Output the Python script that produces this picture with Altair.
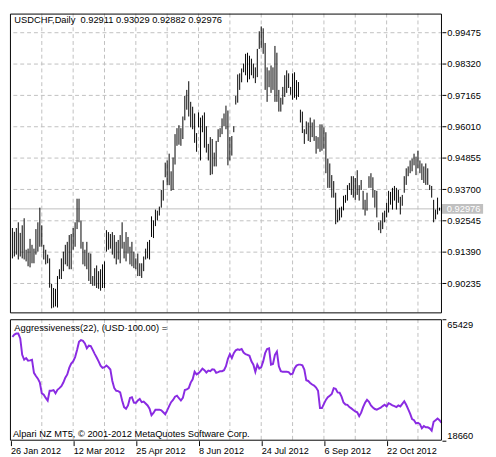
import altair as alt
import pandas as pd

# ---- OHLC bars (daily USDCHF), high / low per bar ----
high = [
    0.9227, 0.9213, 0.9227, 0.9248, 0.9209, 0.9237, 0.9263, 0.9147, 0.9151, 0.9187,
    0.9165, 0.9151, 0.9223, 0.9248, 0.9302, 0.9237, 0.9165, 0.9147, 0.9129, 0.9115,
    0.9021, 0.9006, 0.9003, 0.9050, 0.9075, 0.9115, 0.9140, 0.9165, 0.9176, 0.9201,
    0.9205, 0.9227, 0.9248, 0.9335, 0.9335,
    0.9255, 0.9176, 0.9147, 0.9176, 0.9136, 0.9133, 0.9050, 0.9079, 0.9089, 0.9068,
    0.9075, 0.9093, 0.9104, 0.9219, 0.9212, 0.9205, 0.9212, 0.9201, 0.9176, 0.9183,
    0.9201, 0.9248, 0.9176, 0.9212, 0.9194, 0.9158, 0.9176, 0.9140, 0.9115, 0.9133,
    0.9097, 0.9097, 0.9122, 0.9151, 0.9176, 0.9183, 0.9270, 0.9255,
    0.9295, 0.9291, 0.9306, 0.9367, 0.9403, 0.9468, 0.9476, 0.9501, 0.9436, 0.9487,
    0.9573, 0.9595, 0.9606, 0.9595, 0.9638, 0.9714, 0.9736, 0.9768, 0.9692, 0.9674,
    0.9649, 0.9577, 0.9653, 0.9634, 0.9642, 0.9653, 0.9602, 0.9537, 0.9562, 0.9555,
    0.9505, 0.9548, 0.9591, 0.9595, 0.9631, 0.9649, 0.9678,
    0.9660, 0.9562, 0.9566, 0.9602, 0.9714, 0.9793, 0.9797, 0.9815, 0.9833, 0.9869,
    0.9873, 0.9862, 0.9851, 0.9833, 0.9819, 0.9887, 0.9952, 0.9970, 0.9963, 0.9909,
    0.9819, 0.9808, 0.9826, 0.9819, 0.9898, 0.9873, 0.9736, 0.9707, 0.9747, 0.9790,
    0.9808, 0.9797, 0.9747, 0.9797, 0.9801, 0.9772, 0.9765,
    0.9663, 0.9656, 0.9591, 0.9620, 0.9616, 0.9634, 0.9616, 0.9627, 0.9566, 0.9562,
    0.9609, 0.9609, 0.9598, 0.9580, 0.9483, 0.9465, 0.9422, 0.9400, 0.9357, 0.9295,
    0.9302, 0.9306, 0.9346, 0.9349, 0.9385, 0.9393, 0.9418, 0.9418, 0.9411, 0.9440,
    0.9385, 0.9404, 0.9364, 0.9331, 0.9357, 0.9418,
    0.9429, 0.9414, 0.9367, 0.9364, 0.9248, 0.9255, 0.9284, 0.9291, 0.9320, 0.9364,
    0.9360, 0.9375, 0.9382, 0.9375, 0.9367, 0.9342, 0.9349, 0.9418, 0.9447, 0.9454,
    0.9476, 0.9483, 0.9501, 0.9490, 0.9512, 0.9476, 0.9465, 0.9454, 0.9465, 0.9447,
    0.9386, 0.9382, 0.9331, 0.9295, 0.9339, 0.9302, 0.93029,
]
low = [
    0.9115, 0.9122, 0.9129, 0.9111, 0.9122, 0.9115, 0.9111, 0.9104, 0.9086, 0.9082,
    0.9097, 0.9097, 0.9129, 0.9140, 0.9158, 0.9158, 0.9111, 0.9093, 0.9097, 0.9007,
    0.8931, 0.8934, 0.8938, 0.8934, 0.9039, 0.9039, 0.9068, 0.9093, 0.9086, 0.9075,
    0.9075, 0.9147, 0.9158, 0.9223, 0.9248,
    0.9151, 0.9093, 0.9086, 0.9075, 0.9032, 0.9021, 0.9014, 0.9014, 0.9006, 0.9003,
    0.8996, 0.9006, 0.9006, 0.9140, 0.9147, 0.9151, 0.9129, 0.9115, 0.9093, 0.9111,
    0.9097, 0.9151, 0.9115, 0.9104, 0.9133, 0.9093, 0.9086, 0.9079, 0.9075, 0.9050,
    0.9050, 0.9043, 0.9068, 0.9111, 0.9115, 0.9111, 0.9194, 0.9190,
    0.9234, 0.9255, 0.9273, 0.9302, 0.9328, 0.9414, 0.9385, 0.9385, 0.9364, 0.9367,
    0.9461, 0.9530, 0.9534, 0.9530, 0.9555, 0.9624, 0.9663, 0.9638, 0.9598, 0.9591,
    0.9541, 0.9508, 0.9598, 0.9476, 0.9580, 0.9523, 0.9505, 0.9476, 0.9422, 0.9425,
    0.9454, 0.9454, 0.9544, 0.9562, 0.9573, 0.9602, 0.9591,
    0.9458, 0.9476, 0.9494, 0.9580, 0.9682, 0.9689, 0.9736, 0.9764, 0.9801, 0.9790,
    0.9764, 0.9775, 0.9790, 0.9779, 0.9761, 0.9783, 0.9887, 0.9891, 0.9869, 0.9736,
    0.9692, 0.9746, 0.9725, 0.9736, 0.9692, 0.9692, 0.9656, 0.9656, 0.9682, 0.9710,
    0.9725, 0.9743, 0.9718, 0.9700, 0.9707, 0.9700, 0.9710,
    0.9616, 0.9577, 0.9537, 0.9573, 0.9548, 0.9544, 0.9562, 0.9548, 0.9501, 0.9519,
    0.9508, 0.9512, 0.9519, 0.9429, 0.9375, 0.9375, 0.9339, 0.9339, 0.9241, 0.9248,
    0.9255, 0.9266, 0.9292, 0.9320, 0.9328, 0.9367, 0.9349, 0.9339, 0.9331, 0.9349,
    0.9328, 0.9367, 0.9295, 0.9273, 0.9291, 0.9375,
    0.9375, 0.9339, 0.9302, 0.9266, 0.9219, 0.9208, 0.9223, 0.9248, 0.9266, 0.9284,
    0.9313, 0.9295, 0.9328, 0.9295, 0.9320, 0.9277, 0.9309, 0.9357, 0.9386, 0.9418,
    0.9429, 0.9436, 0.9458, 0.9422, 0.9447, 0.9429, 0.9404, 0.9393, 0.9386, 0.9386,
    0.9367, 0.9339, 0.9248, 0.9259, 0.9277, 0.9291, 0.92882,
]

# ---- Aggressiveness(22) indicator, one value per bar ----
aggr = [
    58639, 59519, 59897, 59897, 58011, 51724, 49838, 50467, 49461, 49587,
    49838, 44809, 43552, 42546, 41037, 36888, 36385, 35128, 34122, 37894,
    37894, 38145, 36888, 38271, 38900, 39654, 41037, 42923, 44180, 46695,
    48329, 49209, 50844, 53610, 56753, 57382, 57130, 56125, 54239, 55245,
    55119, 53610, 52101, 50718, 49209, 47575, 46695, 46946, 47575, 46946,
    46066, 41666, 38900, 37894, 37768, 37265, 34122, 31607, 30979, 32236,
    35128, 35379, 33368, 33242, 34122, 34751, 33493, 33745, 32990, 32236,
    30979, 28464, 29344, 30601, 30601, 30601, 30350, 29596, 28841, 30350,
    31984, 33493, 34373, 35631, 36008, 35002, 34122, 35128, 38145, 38397,
    38900, 41037, 42294, 45186, 44180, 44683, 45438, 46443, 45815, 44935,
    45689, 45438, 46192, 46066, 44809, 45060, 45438, 45438, 45815, 47324,
    50215, 51976, 50467, 52353, 53484, 53862, 53610, 53987, 52604, 51976,
    51724, 51347, 49209, 47952, 45186, 47952, 46443, 46946, 49209, 52353,
    53987, 54239, 47952, 48204, 51724, 52981, 47324, 45438, 45186, 45186,
    45186, 45060, 44180, 44432, 46443, 47575, 47952, 47952, 47701, 46066,
    41917, 41666, 40911, 40283, 39905, 39151, 37894, 31230, 31230, 32865,
    34373, 35379, 36008, 36636, 38900, 38648, 37265, 37139, 35631, 33368,
    32613, 32487, 31607, 31104, 30476, 29973, 29596, 28087, 29470, 31607,
    33242, 34373, 33619, 32236, 31482, 30853, 30601, 30979, 31356, 31984,
    32487, 31859, 33116, 32739, 32236, 31984, 31607, 32236, 31859, 32865,
    33870, 32487, 30853, 29093, 26955, 26578, 25321, 25572, 25069, 23435,
    24315, 23812, 23812, 23435, 22555, 25949, 26578, 27207, 26578, 25572,
]

# ---- axes / labels ----
price_ticks = [0.90235, 0.91390, 0.92545, 0.93700, 0.94855, 0.96010, 0.97165, 0.98320, 0.99475]
price_range = [0.89125, 1.00172]
x_label_idx = [-1, 31, 63, 95, 127, 159, 191]
x_labels = ["26 Jan 2012", "12 Mar 2012", "25 Apr 2012", "8 Jun 2012",
            "24 Jul 2012", "6 Sep 2012", "22 Oct 2012"]
grid_idx = [15, 31, 47, 63, 79, 95, 111, 127, 143, 159, 175, 191, 207]
aggr_range = [18660, 65429]
last_price = 0.92976
title_text = "USDCHF,Daily\u00a0\u00a00.92911 0.93029 0.92882 0.92976"
ind_text = "Aggressiveness(22), (USD\u00b7100.00) ="
copy_text = "Alpari NZ MT5, \u00a9 2001-2012 MetaQuotes Software Corp."

FONT = "Liberation Sans"
GRID = "#C0C0C0"
DASH = [4, 3]

df = pd.DataFrame({"i": list(range(len(high))), "high": high, "low": low, "aggr": aggr})
grid_df = pd.DataFrame({"g": grid_idx})
one = pd.DataFrame({"k": [0]})
lp = pd.DataFrame({"p": [last_price]})

x_scale = alt.Scale(domain=[-1.25, 219.25], nice=False, zero=False)
p_scale = alt.Scale(domain=price_range, nice=False, zero=False)
a_scale = alt.Scale(domain=aggr_range, nice=False, zero=False)

W, H1, H2 = 441, 306, 124

p_axis = alt.Axis(orient="right", values=price_ticks, format=".5f", title=None,
                  grid=True, gridColor=GRID, gridDash=DASH, tickSize=4,
                  labelPadding=1, domain=False, labelOverlap=False, labelBound=False)
x_axis = alt.Axis(values=x_label_idx, labelAlign="left", tickSize=5, labelPadding=1,
                  grid=False, title=None, labelFontSize=9.3, labelOverlap=False,
                  domain=False,
                  labelExpr="[" + ",".join(f"'{s}'" for s in x_labels) + "][indexof([" +
                  ",".join(str(v) for v in x_label_idx) + "], datum.value)]")
a_axis = alt.Axis(orient="right", values=aggr_range, format="d", title=None,
                  grid=False, tickSize=4, labelPadding=1, labelFlush=True,
                  domain=False, labelOverlap=False)


def frame(h):
    return alt.Chart(one).mark_rect(fill="transparent", stroke="black", strokeWidth=1).encode(
        x=alt.value(0.5), x2=alt.value(W - 0.5), y=alt.value(0.5), y2=alt.value(h - 0.5)
    )


# ---------------- upper panel ----------------
vgrid_up = alt.Chart(grid_df).mark_rule(color=GRID, strokeDash=DASH, strokeWidth=1).encode(
    x=alt.X("g:Q", scale=x_scale, axis=None)
)
price_line = alt.Chart(lp).mark_rule(color=GRID, strokeWidth=1).encode(
    y=alt.Y("p:Q", scale=p_scale, axis=p_axis)
)
bars = alt.Chart(df).mark_rule(color="black", strokeWidth=1).encode(
    x=alt.X("i:Q", scale=x_scale, axis=None),
    y=alt.Y("low:Q", scale=p_scale, axis=p_axis),
    y2="high:Q",
)
price_box = alt.Chart(lp).mark_rule(color=GRID, strokeWidth=10).encode(
    y=alt.Y("p:Q", scale=p_scale, axis=p_axis), x=alt.value(441), x2=alt.value(483)
)
price_lbl = alt.Chart(lp).mark_text(
    align="left", baseline="middle", color="white", font=FONT, fontSize=9.5
).encode(y=alt.Y("p:Q", scale=p_scale, axis=p_axis), x=alt.value(446),
         text=alt.Text("p:Q", format=".5f"))
title = alt.Chart(pd.DataFrame({"t": [title_text]})).mark_text(
    align="left", baseline="middle", color="black", font=FONT, fontSize=9.5
).encode(x=alt.value(4.5), y=alt.value(7), text="t:N")

upper = alt.layer(vgrid_up, price_line, bars, price_box, price_lbl, title, frame(H1)).properties(
    width=W, height=H1
)

# ---------------- lower panel ----------------
vgrid_lo = alt.Chart(grid_df).mark_rule(color=GRID, strokeDash=DASH, strokeWidth=1).encode(
    x=alt.X("g:Q", scale=x_scale, axis=x_axis)
)
line = alt.Chart(df).mark_line(color="#8A2BE2", strokeWidth=2).encode(
    x=alt.X("i:Q", scale=x_scale, axis=x_axis),
    y=alt.Y("aggr:Q", scale=a_scale, axis=a_axis),
)
ind_title = alt.Chart(pd.DataFrame({"t": [ind_text]})).mark_text(
    align="left", baseline="middle", color="black", font=FONT, fontSize=9.5
).encode(x=alt.value(4.5), y=alt.value(9), text="t:N")
copy_lbl = alt.Chart(pd.DataFrame({"t": [copy_text]})).mark_text(
    align="left", baseline="middle", color="black", font=FONT, fontSize=9.5
).encode(x=alt.value(3), y=alt.value(117), text="t:N")

lower = alt.layer(vgrid_lo, line, ind_title, copy_lbl, frame(H2)).properties(width=W, height=H2)

chart = alt.vconcat(upper, lower, spacing=4).properties(
    padding=0,
    background="white",
).configure_view(
    strokeWidth=0
).configure_axis(
    labelFont=FONT, labelFontSize=9.5, labelColor="black", tickColor="black", domain=False
)

chart.save("out.html", embed_options={"renderer": "svg", "actions": False})
